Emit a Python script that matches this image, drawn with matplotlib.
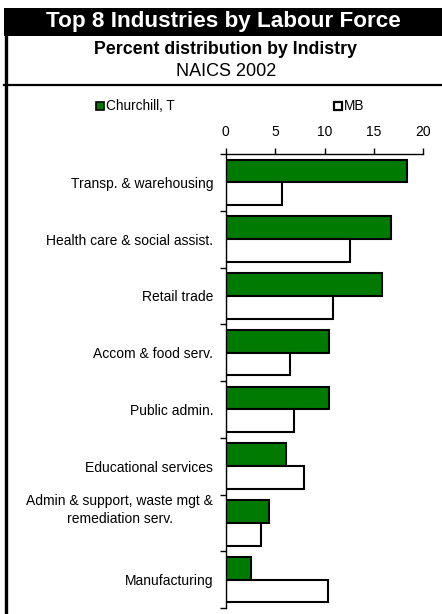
import matplotlib
matplotlib.use("Agg")
import matplotlib.pyplot as plt
import matplotlib.transforms as mtransforms
import numpy as np
from matplotlib.patches import Rectangle
from matplotlib.lines import Line2D

plt.rcParams['font.family'] = ['Liberation Sans', 'DejaVu Sans']

categories = ["Transp. & warehousing", "Health care & social assist.", "Retail trade",
              "Accom & food serv.", "Public admin.", "Educational services",
              "Admin & support, waste mgt &\nremediation serv.", "Manufacturing"]
churchill = [18.4, 16.7, 15.8, 10.5, 10.5, 6.1, 4.4, 2.6]
mb = [5.7, 12.6, 10.9, 6.5, 6.9, 7.9, 3.6, 10.4]
xticks = [0, 5, 10, 15, 20]

W, H = 442, 614
fig = plt.figure(figsize=(W / 100, H / 100), dpi=100)

def fx(px):
    return px / W

def fy(py):
    return 1 - py / H

# Title bar
fig.patches.append(Rectangle((fx(4), fy(36)), 1 - fx(4), fy(8) - fy(36), transform=fig.transFigure,
                             facecolor='black', edgecolor='none', zorder=0))
fig.text(fx(223), fy(22), "Top 8 Industries by Labour Force", color='white', fontsize=16.2,
         fontweight='bold', ha='center', va='center')
fig.text(fx(226), fy(49), "Percent distribution by Indistry", color='black', fontsize=12.8,
         fontweight='bold', ha='center', va='center')
fig.text(fx(226), fy(72), "NAICS 2002", color='black', fontsize=13, ha='center', va='center')
# left border and separator
fig.lines.append(Line2D([fx(5.5), fx(5.5)], [fy(36), 0], transform=fig.transFigure, color='black', lw=2.4))
fig.lines.append(Line2D([fx(4), 1], [fy(85), fy(85)], transform=fig.transFigure, color='black', lw=1.6))

ax = fig.add_axes([fx(225.7), fy(608), fx(423.3) - fx(225.7), fy(154) - fy(608)])
y = np.arange(len(categories))
h = 0.4
ax.barh(y - h / 2, churchill, height=h, color='#007A00', edgecolor='black', linewidth=1.5, label='Churchill, T')
ax.barh(y + h / 2, mb, height=h, color='white', edgecolor='black', linewidth=1.5, label='MB')
ax.set_ylim(len(categories) - 0.5, -0.5)
ax.set_xlim(0, 20)
ax.set_yticks(y)
ax.set_yticklabels(categories, fontsize=10, ha='right', multialignment='center')
ax.set_yticks(np.arange(len(categories) + 1) - 0.5, minor=True)
ax.tick_params(axis='y', which='major', length=0, pad=9)
ax.tick_params(axis='y', which='minor', length=4, width=1, direction='out')
ax.xaxis.tick_top()
ax.set_xticks(xticks)
ax.set_xticklabels([str(t) for t in xticks], fontsize=10)
ax.tick_params(axis='x', length=4, width=1, direction='out', pad=7)
for s in ['right', 'bottom']:
    ax.spines[s].set_visible(False)
ax.spines['left'].set_linewidth(1)
ax.spines['top'].set_linewidth(1)

# two-line label sits higher in the reference
for lab in ax.get_yticklabels():
    if "\n" in lab.get_text():
        lab.set_linespacing(1.35)
        lab.set_transform(lab.get_transform() + mtransforms.ScaledTranslation(0, 16 / 100, fig.dpi_scale_trans))

# Legend
fig.patches.append(Rectangle((fx(95.5), fy(110)), fx(8.5), fy(102) - fy(110), transform=fig.transFigure,
                             facecolor='#007A00', edgecolor='black', lw=1.2))
fig.text(fx(106), fy(106), "Churchill, T", fontsize=9.8, ha='left', va='center')
fig.patches.append(Rectangle((fx(333.5), fy(110)), fx(8.5), fy(102) - fy(110), transform=fig.transFigure,
                             facecolor='white', edgecolor='black', lw=1.6))
fig.text(fx(344), fy(106), "MB", fontsize=9.8, ha='left', va='center')

fig.savefig("out.png", dpi=100)
